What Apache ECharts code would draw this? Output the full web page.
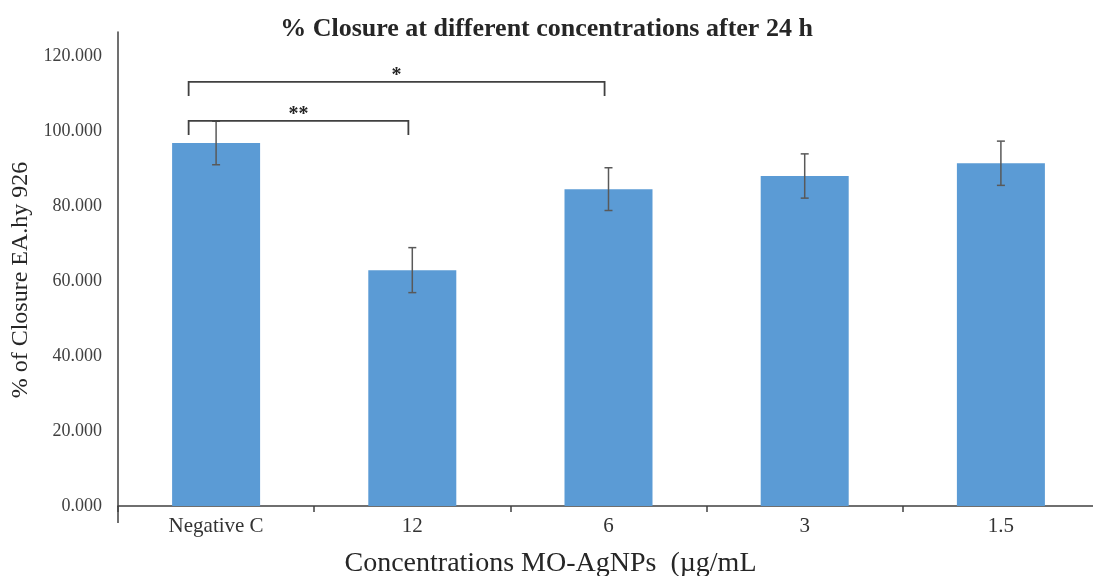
<!DOCTYPE html>
<html>
<head>
<meta charset="utf-8">
<script src="https://cdn.jsdelivr.net/npm/echarts@6/dist/echarts.min.js"></script>
<style>
  html, body { margin: 0; padding: 0; background: #fff; }
  #chart { width: 1093px; height: 576px; }
</style>
</head>
<body>
<div id="chart"></div>
<script>
// data
const categories = ['Negative C', '12', '6', '3', '1.5'];
const closure = [96.8, 62.9, 84.5, 88.0, 91.4];
const errors = [5.8, 6.0, 5.7, 5.9, 5.9];

// significance brackets (category index from/to, height, label)
const bracketFrom = [0, 0];
const bracketTo = [1, 2];
const bracketY = [102.7, 113.1];
const bracketLabel = ['**', '*'];

const serif = '"Liberation Serif", "DejaVu Serif", serif';

const chart = echarts.init(document.getElementById('chart'));

chart.setOption({
  animation: false,
  title: {
    text: '% Closure at different concentrations after 24 h',
    left: 'center',
    top: 11,
    textStyle: {
      fontFamily: serif,
      fontSize: 26,
      fontWeight: 'bold',
      color: '#262626'
    }
  },
  grid: {
    left: 118,
    width: 981,
    top: 32,
    bottom: 70,
    containLabel: false,
    outerBoundsMode: 'none'
  },
  xAxis: {
    type: 'category',
    data: categories,
    name: 'Concentrations MO-AgNPs  (µg/mL',
    nameLocation: 'middle',
    nameGap: 44,
    nameTextStyle: {
      fontFamily: serif,
      fontSize: 28,
      color: '#262626',
      padding: [0, 116, 0, 0]
    },
    axisLine: { lineStyle: { color: '#404040', width: 1.5 } },
    axisTick: {
      show: true,
      alignWithLabel: false,
      interval: 0,
      length: 6,
      lineStyle: { color: '#404040', width: 1.5 }
    },
    axisLabel: {
      fontFamily: serif,
      fontSize: 21,
      color: '#333',
      margin: 10
    }
  },
  yAxis: {
    type: 'value',
    min: 0,
    max: 126.4,
    interval: 20,
    name: '% of Closure EA.hy 926',
    nameLocation: 'middle',
    nameGap: 84,
    nameTextStyle: {
      fontFamily: serif,
      fontSize: 24,
      color: '#262626',
      padding: [0, 22, 0, 0]
    },
    splitLine: { show: false },
    axisTick: { show: false },
    axisLine: { show: true, lineStyle: { color: '#404040', width: 1.5 } },
    axisLabel: {
      fontFamily: serif,
      fontSize: 18,
      color: '#404040',
      margin: 16,
      showMaxLabel: false,
      formatter: v => v.toFixed(3)
    }
  },
  series: [
    {
      type: 'bar',
      data: closure,
      barWidth: 88,
      itemStyle: { color: '#5B9BD5' },
      z: 2
    },
    {
      // error bars
      type: 'custom',
      z: 3,
      data: closure.map((v, i) => [i, v, errors[i]]),
      renderItem: function (params, api) {
        const x = api.value(0);
        const v = api.value(1);
        const e = api.value(2);
        const top = api.coord([x, v + e]);
        const bot = api.coord([x, v - e]);
        const cap = 4;
        const style = { stroke: '#595959', lineWidth: 1.5 };
        return {
          type: 'group',
          children: [
            { type: 'line', shape: { x1: top[0], y1: top[1], x2: bot[0], y2: bot[1] }, style: style },
            { type: 'line', shape: { x1: top[0] - cap, y1: top[1], x2: top[0] + cap, y2: top[1] }, style: style },
            { type: 'line', shape: { x1: bot[0] - cap, y1: bot[1], x2: bot[0] + cap, y2: bot[1] }, style: style }
          ]
        };
      }
    },
    {
      // significance brackets
      type: 'custom',
      z: 4,
      data: bracketFrom.map((f, i) => [f, bracketTo[i], bracketY[i]]),
      renderItem: function (params, api) {
        const band = api.size([1, 0])[0];
        const a = api.coord([api.value(0), api.value(2)]);
        const b = api.coord([api.value(1), api.value(2)]);
        const x1 = a[0] - 0.14 * band;
        const x2 = b[0] - 0.02 * band;
        const y = a[1];
        const drop = 14;
        const style = { stroke: '#404040', lineWidth: 1.8, fill: 'none' };
        const label = bracketLabel[params.dataIndex];
        return {
          type: 'group',
          children: [
            {
              type: 'polyline',
              shape: { points: [[x1, y + drop], [x1, y], [x2, y], [x2, y + drop]] },
              style: style
            },
            {
              type: 'text',
              style: {
                text: label,
                x: (x1 + x2) / 2,
                y: y + 4,
                align: 'center',
                verticalAlign: 'bottom',
                font: 'bold 20px ' + serif,
                fill: '#262626'
              }
            }
          ]
        };
      }
    }
  ]
});

// y axis line runs a little below the x axis
const p0 = chart.convertToPixel({ gridIndex: 0 }, [0, 0]);
const xLeft = chart.getModel().getComponent('grid').coordinateSystem.getRect().x;
chart.setOption({
  graphic: [{
    type: 'line',
    shape: { x1: xLeft, y1: p0[1], x2: xLeft, y2: p0[1] + 17 },
    style: { stroke: '#404040', lineWidth: 1.5 }
  }]
});
</script>
</body>
</html>
